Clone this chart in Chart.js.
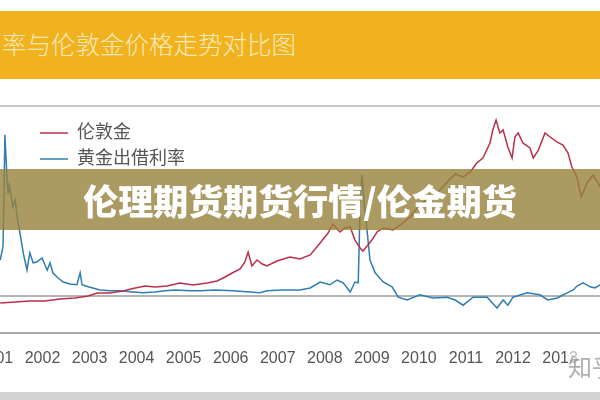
<!DOCTYPE html>
<html>
<head>
<meta charset="utf-8">
<script src="https://cdn.jsdelivr.net/npm/chart.js@4.4.0/dist/chart.umd.min.js"></script>
<style>
  html, body { margin: 0; padding: 0; background: #fff; }
  #page { position: relative; width: 600px; height: 400px; overflow: hidden; background: #fff;
          font-family: "Noto Sans CJK SC", sans-serif; }
  #header { position: absolute; left: 0; top: 11px; width: 600px; height: 68px; background: #f0b21f; }
  #header span { position: absolute; left: 2px; top: 18px; font-size: 24.5px; line-height: 30px;
                 color: #fbe9ba; font-weight: 300; white-space: nowrap; }
  #frameTop { position: absolute; left: 0; top: 105px; width: 600px; height: 2px; background: #c8c8c8; }
  #chartBox { position: absolute; left: -80px; top: 106px; }
  #legend { position: absolute; left: 40px; top: 117px; font-size: 18px; color: #555; }
  #legend div { height: 26px; line-height: 26px; white-space: nowrap; }
  #legend i { display: inline-block; width: 28px; height: 2px; vertical-align: middle; margin-right: 9px; opacity: 0.75; }
  #banner { position: absolute; left: 0; top: 169px; width: 600px; height: 61px;
            background: rgba(150, 130, 60, 0.8); color: #fff; font-weight: 900; font-size: 35px;
            line-height: 61px; text-align: center; white-space: nowrap; }
  #footer { position: absolute; left: 0; top: 392px; width: 600px; height: 8px; background: #d3d3d3; }
  #mark { position: absolute; left: 568px; top: 348px; font-size: 24px; color: rgba(140, 140, 140, 0.7);
          background: rgba(255, 255, 255, 0.6); white-space: nowrap; }
</style>
</head>
<body>
<div id="page">
  <div id="header"><span>率与伦敦金价格走势对比图</span></div>
  <div id="frameTop"></div>
  <div id="chartBox"><canvas id="chart" width="760" height="294"></canvas></div>
  <div id="legend"></div>
  <div id="banner">伦理期货期货行情/伦金期货</div>
  <div id="footer"></div>
  <div id="mark">知乎</div>
</div>
<script>
// tick labels on the time axis
const yearLabels = [2001, 2002, 2003, 2004, 2005, 2006, 2007, 2008, 2009, 2010, 2011, 2012, 2013];

// London gold, USD/oz
const goldYears = [2001.10, 2001.42, 2001.73, 2002.05, 2002.37, 2002.69, 2002.97, 2003.16, 2003.43, 2003.71,
  2003.97, 2004.18, 2004.39, 2004.65, 2004.92, 2005.20, 2005.50, 2005.71, 2005.88, 2006.03,
  2006.20, 2006.30, 2006.37, 2006.45, 2006.56, 2006.67, 2006.77, 2006.98, 2007.26, 2007.47,
  2007.69, 2007.90, 2008.07, 2008.17, 2008.32, 2008.43, 2008.54, 2008.64, 2008.75, 2008.81,
  2008.90, 2009.00, 2009.11, 2009.24, 2009.45, 2009.66, 2009.81, 2010.02, 2010.24, 2010.45,
  2010.60, 2010.77, 2010.94, 2011.09, 2011.23, 2011.36, 2011.51, 2011.57, 2011.64, 2011.72,
  2011.79, 2011.89, 2011.98, 2012.04, 2012.11, 2012.21, 2012.36, 2012.43, 2012.53, 2012.68,
  2012.79, 2012.94, 2013.06, 2013.17, 2013.25, 2013.36, 2013.45, 2013.57, 2013.70, 2013.81, 2013.85];
const goldPrice = [268, 277, 286, 286, 304, 313, 330, 357, 357, 375,
  402, 420, 411, 420, 447, 429, 447, 464, 500, 536,
  572, 634, 723, 598, 652, 616, 598, 643, 679, 661,
  697, 804, 893, 973, 902, 938, 947, 830, 759, 732,
  777, 830, 902, 938, 920, 982, 1036, 1143, 1214, 1277,
  1348, 1420, 1393, 1438, 1518, 1563, 1697, 1813, 1902, 1786,
  1813, 1661, 1563, 1750, 1786, 1697, 1652, 1563, 1625, 1786,
  1750, 1705, 1679, 1607, 1482, 1393, 1214, 1340, 1411, 1340, 1304];

// gold lease rate, %
const rateYears = [2001.10, 2001.16, 2001.18, 2001.20, 2001.25, 2001.27, 2001.29, 2001.33, 2001.37, 2001.42,
  2001.46, 2001.52, 2001.59, 2001.67, 2001.73, 2001.80, 2001.88, 2001.99, 2002.05, 2002.10,
  2002.16, 2002.22, 2002.33, 2002.44, 2002.58, 2002.73, 2002.80, 2002.84, 2002.97, 2003.07,
  2003.22, 2003.43, 2003.65, 2003.92, 2004.14, 2004.39, 2004.60, 2004.82, 2005.13, 2005.35,
  2005.67, 2006.05, 2006.41, 2006.62, 2006.77, 2007.11, 2007.47, 2007.69, 2007.90, 2008.11,
  2008.26, 2008.39, 2008.54, 2008.64, 2008.71, 2008.73, 2008.75, 2008.79, 2008.83, 2008.88,
  2008.96, 2009.07, 2009.24, 2009.43, 2009.56, 2009.75, 2010.02, 2010.30, 2010.60, 2010.77,
  2010.94, 2011.15, 2011.45, 2011.66, 2011.79, 2011.89, 2012.00, 2012.30, 2012.57, 2012.74,
  2012.94, 2013.15, 2013.28, 2013.36, 2013.49, 2013.64, 2013.74, 2013.85];
const leaseRate = [0.90, 1.23, 2.40, 4.03, 2.83, 2.55, 2.78, 2.53, 2.23, 2.40,
  1.98, 1.58, 1.08, 0.65, 1.08, 0.83, 0.85, 0.95, 0.78, 0.65,
  0.83, 0.58, 0.45, 0.35, 0.30, 0.28, 0.58, 0.28, 0.23, 0.20,
  0.15, 0.13, 0.13, 0.10, 0.08, 0.10, 0.13, 0.15, 0.13, 0.13,
  0.15, 0.13, 0.10, 0.08, 0.13, 0.15, 0.15, 0.20, 0.35, 0.28,
  0.40, 0.33, 0.10, 0.35, 0.33, 1.23, 2.40, 3.03, 2.40, 1.85,
  0.90, 0.58, 0.35, 0.23, -0.03, -0.10, 0.03, -0.05, -0.03, -0.10,
  -0.23, -0.03, -0.03, -0.30, -0.10, -0.23, -0.03, 0.08, 0.03, -0.10,
  -0.05, 0.08, 0.15, 0.25, 0.33, 0.23, 0.20, 0.28];

const toPoints = (xs, ys) => xs.map((x, i) => ({ x: x, y: ys[i] }));

const chart = new Chart(document.getElementById('chart').getContext('2d'), {
  type: 'line',
  data: {
    datasets: [
      {
        label: '伦敦金',
        data: toPoints(goldYears, goldPrice),
        borderColor: '#bb2f4b',
        borderWidth: 1.5,
        pointRadius: 0,
        yAxisID: 'yGold',
      },
      {
        label: '黄金出借利率',
        data: toPoints(rateYears, leaseRate),
        borderColor: '#2f7db3',
        borderWidth: 1.5,
        pointRadius: 0,
        yAxisID: 'yRate',
      },
    ],
  },
  options: {
    responsive: false,
    animation: false,
    layout: { padding: 0 },
    plugins: { legend: { display: false }, tooltip: { enabled: false } },
    scales: {
      x: {
        type: 'linear',
        min: 1999.396,
        max: 2015.549,
        afterBuildTicks: (s) => { s.ticks = yearLabels.map(v => ({ value: v })); },
        afterFit: (s) => { s.height = 67; },
        grid: { color: 'transparent', drawTicks: false },
        border: { display: true, color: '#a9a9a9', width: 2 },
        ticks: {
          padding: 16,
          color: '#555',
          maxRotation: 0,
          autoSkip: false,
          font: { family: "'Liberation Sans', Arial, sans-serif", size: 16 },
          callback: (v) => String(v),
        },
      },
      yGold: { type: 'linear', min: 0, max: 2027, display: false },
      yRate: {
        type: 'linear',
        min: -0.925,
        max: 4.75,
        position: 'left',
        afterBuildTicks: (s) => { s.ticks = [{ value: 0 }]; },
        ticks: { display: false },
        border: { display: false },
        grid: { drawTicks: false, color: '#b4b4b4', lineWidth: 2 },
      },
    },
  },
});

// legend rows built from the datasets
const legend = document.getElementById('legend');
chart.data.datasets.forEach(ds => {
  const row = document.createElement('div');
  row.innerHTML = '<i style="background:' + ds.borderColor + '"></i>' + ds.label;
  legend.appendChild(row);
});
</script>
</body>
</html>
